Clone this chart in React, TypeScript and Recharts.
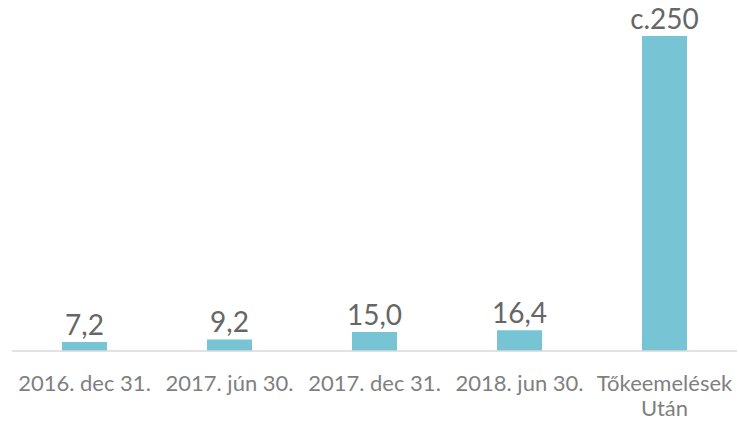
import React from "react";
import { BarChart, Bar, XAxis, YAxis, LabelList } from "recharts";

const categories = ["2016. dec 31.", "2017. jún 30.", "2017. dec 31.", "2018. jun 30.", "Tőkeemelések|Után"];
const values = [7.2, 9.2, 15.0, 16.4, 250];
const valueLabels = ["7,2", "9,2", "15,0", "16,4", "c.250"];

const data = categories.map((name, i) => ({ name, value: values[i], label: valueLabels[i] }));

const FONT = "Lato, sans-serif";

const CategoryTick = (props: any) => {
    const { x, y, payload } = props;
    const lines = String(payload.value).split("|");
    return (
        <text x={x} y={y} textAnchor="middle" fill="#7f7f7f" fontSize={22} fontFamily={FONT}>
            {lines.map((line, i) => (
                <tspan key={i} x={x} dy={i === 0 ? 32 : 25}>{line}</tspan>
            ))}
        </text>
    );
};

const App = () => {
    return (
        <div style={{ position: "absolute", left: 0, top: 0, background: "#fff" }}>
            <BarChart width={739} height={421} data={data} margin={{ top: 36, right: 2, bottom: 10, left: 12 }}>
                <XAxis
                    dataKey="name"
                    interval={0}
                    tickLine={false}
                    axisLine={{ stroke: "#d9d9d9", strokeWidth: 1.5 }}
                    tick={<CategoryTick />}
                    height={60}
                />
                <YAxis hide domain={[0, 250]} />
                <Bar dataKey="value" fill="#77c4d5" barSize={45} isAnimationActive={false}>
                    <LabelList
                        dataKey="label"
                        position="top"
                        offset={7}
                        fill="#666666"
                        fontSize={28}
                        fontFamily={FONT}
                    />
                </Bar>
            </BarChart>
        </div>
    );
};

export default App;
